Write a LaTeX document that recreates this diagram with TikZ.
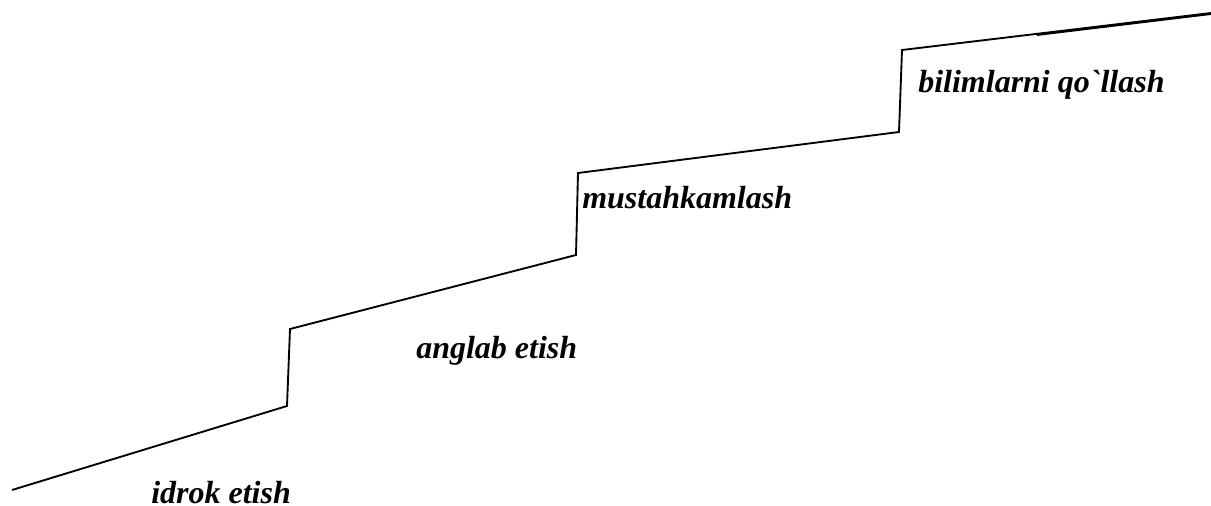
\documentclass[tikz,border=0pt]{standalone}
\usepackage{fontspec}
\newfontfamily\labfont{Liberation Serif}[Ligatures=TeXOff]
\tikzset{
  stair/.style={line width=1.4pt, line join=miter},
  lab/.style={anchor=base west, inner sep=0pt, font=\labfont\bfseries\itshape\fontsize{24}{28}\selectfont}
}
\begin{document}
\begin{tikzpicture}[x=0.75pt,y=-0.75pt]
\useasboundingbox (0,0) rectangle (1211,506);
\coordinate (p0) at (12,490);
\coordinate (p1) at (287,406);
\coordinate (p2) at (290,329);
\coordinate (p3) at (576,255);
\coordinate (p4) at (578,173);
\coordinate (p5) at (899,132);
\coordinate (p6) at (902,50);
\coordinate (p7) at (1211,13);
\coordinate (q0) at (1037,35);
\coordinate (q1) at (1211,14);
\draw[stair] (p0) -- (p1) -- (p2) -- (p3) -- (p4) -- (p5) -- (p6) -- (p7);
\draw[stair] (q0) -- (q1);
\node[lab] (l1) at (151,503) {idrok etish};
\node[lab] (l2) at (416,358) {anglab etish};
\node[lab] (l3) at (582,209) {mustahkamlash};
\node[lab] (l4) at (918,93) {bilimlarni qo`llash};
\end{tikzpicture}
\end{document}
